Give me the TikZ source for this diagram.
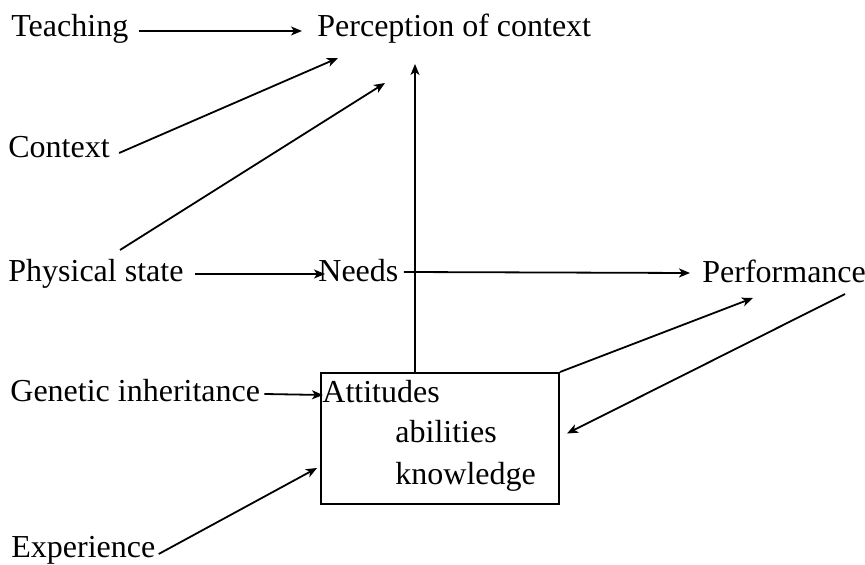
\documentclass[tikz,border=0pt]{standalone}
\usepackage{fontspec}
\setmainfont{Liberation Serif}
\usepackage{tikz}
\usetikzlibrary{arrows.meta,calc}

\begin{document}
\begin{tikzpicture}[x=0.5pt,y=-0.5pt,
    label/.style={font=\fontsize{16}{19}\selectfont, inner sep=0pt, anchor=base west},
    conn/.style={-{Stealth[length=5.5pt,width=4.5pt,inset=1.5pt]}, line width=0.9pt},
    frame/.style={draw, line width=1pt, inner sep=0pt, minimum width=119pt, minimum height=65.5pt, anchor=north west}
]
\useasboundingbox (0,0) rectangle (865,565);

% factors
\node[label] (teach)   at (11,37)  {Teaching};
\node[label] (percep)  at (317,37) {Perception of context};
\node[label] (ctx)     at (8,158)  {Context};
\node[label] (phys)    at (8,282)  {Physical state};
\node[label] (needs)   at (318,282) {Needs};
\node[label] (perf)    at (702,283) {Performance};
\node[label] (genetic) at (10,402) {Genetic inheritance};
\node[label] (exper)   at (11,557) {Experience};

% box with its contents
\node[frame] (box) at (320,372) {};
\node[label] (att)  at (322,403) {Attitudes};
\node[label] (abil) at (395,443) {abilities};
\node[label] (know) at (395,484) {knowledge};

% connectors
\draw[conn] ($(teach.base east)+(10,-6)$) -- ($(percep.base west)+(-15,-6)$);
\draw[conn] ($(ctx.base east)+(9,-5)$) -- ($(percep.base west)+(21,21)$);
\draw[conn] ($(phys.base west)+(112,-32)$) -- ($(percep.base west)+(68,46)$);
\draw[conn] ($(phys.base east)+(11,-8)$) -- ($(needs.base west)+(7,-8)$);
\draw[conn] ($(needs.base east)+(5,-10)$) -- ($(perf.base west)+(-12,-10)$);
\coordinate (vtop) at ($(percep.base west)+(98,27)$);
\draw[conn] (box.north west -| vtop) -- (vtop);
\draw[conn] ($(genetic.base east)+(4,-8)$) -- ($(att.base west)+(1,-8)$);
\draw[conn] ($(exper.base east)+(3,-3)$) -- ($(box.north west)+(-3,96)$);
\draw[conn] (box.north east) -- ($(perf.base west)+(51,15)$);
\draw[conn] ($(perf.base west)+(143,11)$) -- ($(box.east)+(7,-5)$);
\end{tikzpicture}
\end{document}
